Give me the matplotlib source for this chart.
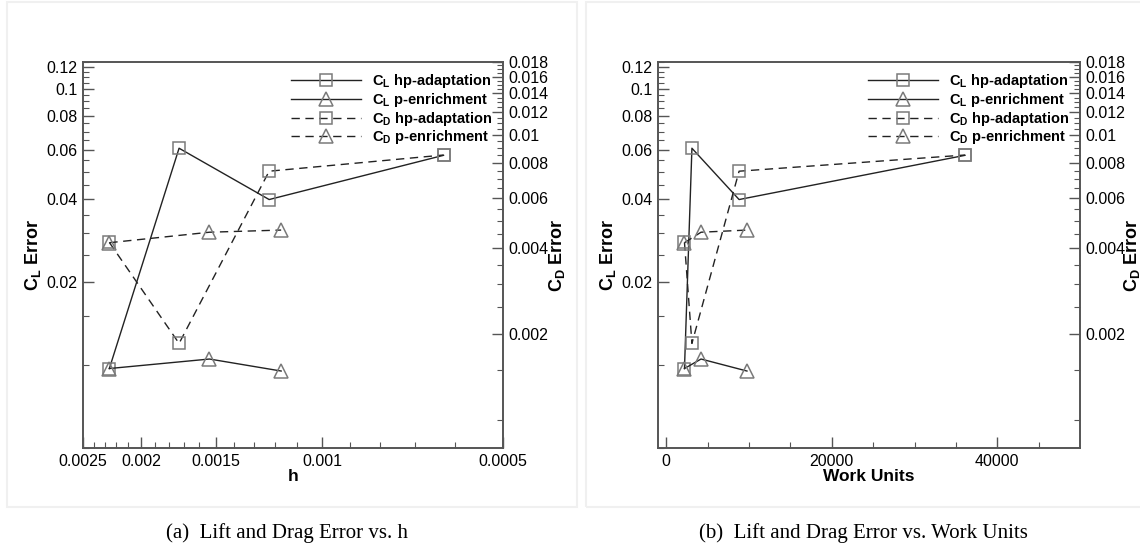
import numpy as np
import matplotlib.pyplot as plt
from matplotlib.ticker import FixedLocator, FixedFormatter, NullFormatter
from matplotlib.patches import Rectangle

plt.rcParams['font.family'] = ['Liberation Sans', 'DejaVu Sans']
plt.rcParams['mathtext.fontset'] = 'custom'
plt.rcParams['mathtext.bf'] = 'Liberation Sans:bold'
plt.rcParams['mathtext.rm'] = 'Liberation Sans'

# data
h_hp = [0.00226, 0.00173, 0.001225, 0.000628]
h_p = [0.00226, 0.00154, 0.00117]
work_hp = [2200, 3100, 8800, 36100]
work_p = [2200, 4200, 9750]

cl_hp = [0.0097, 0.0609, 0.0397, 0.0574]
cl_p = [0.0097, 0.0105, 0.0095]
cd_hp = [0.0042, 0.00186, 0.00746, 0.0085]
cd_p = [0.00419, 0.00456, 0.00464]

labels = [r'C$_\mathbf{L}$ hp-adaptation', r'C$_\mathbf{L}$ p-enrichment',
          r'C$_\mathbf{D}$ hp-adaptation', r'C$_\mathbf{D}$ p-enrichment']

cl_ticks = [0.02, 0.04, 0.06, 0.08, 0.1, 0.12]
cl_ticklabels = ['0.02', '0.04', '0.06', '0.08', '0.1', '0.12']
cd_ticks = [0.002, 0.004, 0.006, 0.008, 0.01, 0.012, 0.014, 0.016, 0.018]
cd_ticklabels = ['0.002', '0.004', '0.006', '0.008', '0.01', '0.012', '0.014', '0.016', '0.018']
h_ticks = [0.0025, 0.002, 0.0015, 0.001, 0.0005]
h_ticklabels = ['0.0025', '0.002', '0.0015', '0.001', '0.0005']
work_ticks = [0, 20000, 40000]

line_col = '#222222'
mark_col = '#7a7a7a'
spine_col = '#555555'
dash = (0, (6, 4))


def style(ax, side):
    for s in ax.spines.values():
        s.set_color(spine_col)
        s.set_linewidth(1.2)
    ax.tick_params(which='both', direction='in', colors=spine_col, labelcolor='black',
                   labelsize=11.5, top=False, pad=4)
    ax.tick_params(which='major', length=8, width=1)
    ax.tick_params(which='minor', length=4, width=0.8)
    if side == 'left':
        ax.tick_params(axis='y', which='both', left=True, right=False)
    else:
        ax.tick_params(axis='y', which='both', left=False, right=True)


fig = plt.figure(figsize=(11.4, 5.47), dpi=100)

# faint panel frames
for x0 in (7 / 1140, 586 / 1140):
    fig.patches.append(Rectangle((x0, 40 / 547), 0.5, 505 / 547, transform=fig.transFigure,
                                 fill=False, edgecolor='#f0f0f0', lw=1.5))

panels = [
    ([83 / 1140, 99 / 547, 420 / 1140, 386 / 547], h_hp, h_p, 'h', '(a)  Lift and Drag Error vs. h'),
    ([658 / 1140, 99 / 547, 422 / 1140, 386 / 547], work_hp, work_p, 'Work Units',
     '(b)  Lift and Drag Error vs. Work Units'),
]

for k, (rect, xhp, xp, xlabel, caption) in enumerate(panels):
    ax = fig.add_axes(rect)
    ax2 = ax.twinx()

    l1, = ax.plot(xhp, cl_hp, color=line_col, lw=1, marker='s', ms=9, mfc='none',
                  mec=mark_col, mew=1.1)
    l2, = ax.plot(xp, cl_p, color=line_col, lw=1, marker='^', ms=10, mfc='none',
                  mec=mark_col, mew=1.1)
    l3, = ax2.plot(xhp, cd_hp, color=line_col, lw=1, ls=dash, marker='s', ms=9, mfc='none',
                   mec=mark_col, mew=1.1)
    l4, = ax2.plot(xp, cd_p, color=line_col, lw=1, ls=dash, marker='^', ms=10, mfc='none',
                   mec=mark_col, mew=1.1)

    ax.set_yscale('log')
    ax2.set_yscale('log')
    ax.set_ylim(0.005, 0.125)
    ax2.set_ylim(0.0008, 0.018)

    ax.yaxis.set_major_locator(FixedLocator(cl_ticks))
    ax.yaxis.set_major_formatter(FixedFormatter(cl_ticklabels))
    ax.yaxis.set_minor_locator(FixedLocator(np.arange(0.005, 0.1251, 0.005)))
    ax.yaxis.set_minor_formatter(NullFormatter())

    ax2.yaxis.set_major_locator(FixedLocator(cd_ticks))
    ax2.yaxis.set_major_formatter(FixedFormatter(cd_ticklabels))
    ax2.yaxis.set_minor_locator(FixedLocator(np.arange(0.001, 0.01801, 0.0005)))
    ax2.yaxis.set_minor_formatter(NullFormatter())

    if k == 0:
        ax.set_xscale('log')
        ax.set_xlim(0.0025, 0.0005)
        ax.xaxis.set_major_locator(FixedLocator(h_ticks))
        ax.xaxis.set_major_formatter(FixedFormatter(h_ticklabels))
        ax.xaxis.set_minor_locator(FixedLocator(np.arange(0.0006, 0.00245, 0.0001)))
        ax.xaxis.set_minor_formatter(NullFormatter())
    else:
        ax.set_xlim(-1000, 50000)
        ax.xaxis.set_major_locator(FixedLocator(work_ticks))
        ax.xaxis.set_minor_locator(FixedLocator(np.arange(5000, 50000, 5000)))

    style(ax, 'left')
    style(ax2, 'right')

    ax.set_xlabel(xlabel, fontsize=12.5, fontweight='bold', labelpad=0)
    ax.set_ylabel(r'C$_\mathbf{L}$ Error', fontsize=13, fontweight='bold', labelpad=2)
    ax2.set_ylabel(r'C$_\mathbf{D}$ Error', fontsize=13, fontweight='bold')
    ax2.yaxis.set_label_coords(1.0995 if k == 1 else 1.105, 0.5)

    ax2.legend([l1, l2, l3, l4], labels, loc='upper right', bbox_to_anchor=(1.0, 1.0),
               frameon=False, prop={'weight': 'bold', 'size': 10.5}, handlelength=4.8,
               handletextpad=0.8, labelspacing=0.05, borderaxespad=0.3)

    cx = rect[0] + rect[2] / 2
    fig.text(cx - 0.005, 14 / 547, caption, ha='center', va='center',
             family='Liberation Serif', fontsize=15)

fig.savefig('out.png', dpi=100)
